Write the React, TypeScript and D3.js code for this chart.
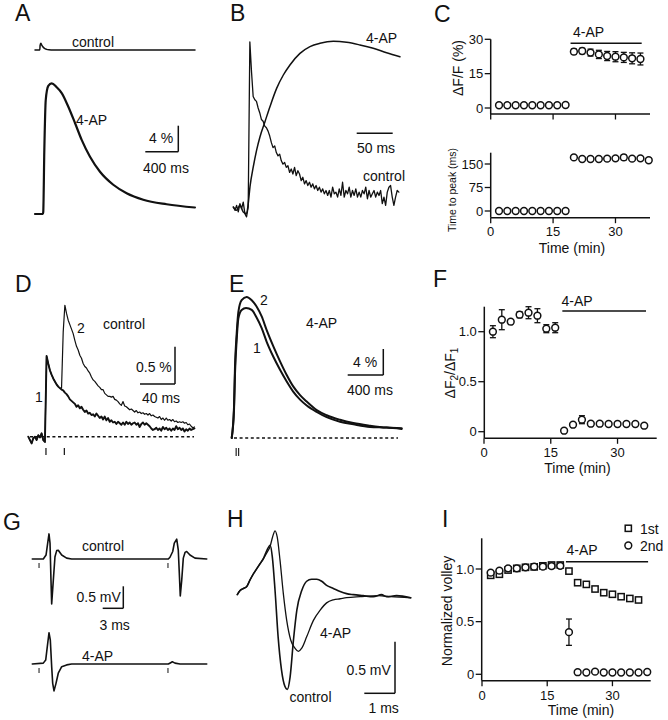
import React from "react";
import * as d3 from "d3";

const FONT = "'Liberation Sans', Arial, Helvetica, sans-serif";
const INK = "#111";
type P = [number, number];

// ---------- Panel A (ms, %) ----------
const A_control: P[] = [[0,0],[58,0],[62,0.7],[70,1.05],[80,0.8],[95,0.5],[115,0.25],[140,0.1],[170,0.03],[220,0],[1940,0]];
const A_4ap: P[] = [[0,0],[95,0],[100,0.3],[113,9.8],[130,17.5],[161,19.7],[202,20.1],[263,19.5],[324,18.6],[404,16.5],[485,14.0],[566,11.4],[667,8.8],[788,6.5],[949,4.5],[1111,3.2],[1313,2.2],[1596,1.5],[1939,1.0]];

// ---------- Panel B (ms, normalised) ----------
const B_dt = 2.3;
const B_control = [0.00,-0.02,0.01,-0.03,0.02,-0.01,0.03,-0.04,-0.06,0.00,
  1.00,0.82,0.67,0.65,0.64,0.60,0.57,0.53,0.52,0.49,
  0.48,0.46,0.43,0.39,0.36,0.37,0.33,0.31,0.32,0.28,
  0.26,0.27,0.24,0.25,0.21,0.23,0.20,0.24,0.19,0.22,
  0.20,0.16,0.18,0.14,0.16,0.13,0.15,0.12,0.14,0.11,
  0.13,0.10,0.12,0.09,0.11,0.08,0.10,0.07,0.10,0.06,
  0.12,0.08,0.09,0.06,0.11,0.07,0.15,0.06,0.10,0.08,
  0.12,0.06,0.10,0.07,0.11,0.06,0.09,0.06,0.10,0.08,
  0.12,0.05,0.10,0.06,0.08,0.10,0.06,0.09,0.07,0.10,
  0.02,0.06,0.01,0.09,0.12,0.13,0.06,0.01,0.06,0.10,0.09];
const B_4ap: P[] = [[0,0],[4.6,-0.02],[9.2,0.01],[13.8,-0.03],[18.4,-0.04],[21,0.03],[23.2,0.123],[27.8,0.244],[32.4,0.345],[37.1,0.426],[44,0.517],[50.9,0.608],[60.2,0.719],[69.5,0.8],[78.7,0.861],[92.6,0.931],[106.5,0.972],[120.4,0.992],[139,1.004],[157.4,0.998],[175.9,0.982],[194.4,0.962],[213,0.935],[231.5,0.911]];

// ---------- Panel C (min) ----------
const C_ctrlT = [2,4,6,8,10,12,14,16,18];
const C_drugT = [20,22,24,26,28,30,32,34,36];
const C_drugT2 = [20,22,24,26,28,30,32,34,36,38];
const C_ampCtrl = [1.2,1.2,1.2,1.2,1.2,1.2,1.2,1.2,1.3];
const C_ampDrug = [24.6,24.9,24.2,23.4,22.7,22.4,22.1,21.7,21.4];
const C_ampDrugErr = [1.2,1.2,1.5,1.8,2.0,2.2,2.2,2.4,2.6];
const C_ttpCtrl = [0,0,0,0,0,0,0,0,0];
const C_ttpDrug = [171,166,166,166,167,168,171,167,168,162];
const C_ttpDrugErr = [3,3,4,5,6,5,8,5,4,6];
const C_yTicksTop = [0,15,30];
const C_yTicksBot = [0,75,150];
const C_xTicks = [0,15,30];
const C_drugBar = [19.2,36.3];

// ---------- Panel D (ms, %) ----------
const D_dt = 1.9;
const D_pulse1 = [0.0,-0.045,-0.09,-0.02,0.0,-0.045,0.02,-0.01,0.045,-0.045,
  -0.07,1.08,0.98,0.89,0.83,0.78,0.74,0.70,0.67,0.65,
  0.63,0.62,0.59,0.57,0.54,0.50,0.48,0.46,0.44,0.40,
  0.42,0.38,0.40,0.36,0.33,0.35,0.31,0.32,0.29,0.30,
  0.27,0.31,0.28,0.25,0.27,0.23,0.27,0.22,0.25,0.20,
  0.22,0.19,0.20,0.17,0.20,0.18,0.16,0.19,0.16,0.20,
  0.17,0.19,0.16,0.18,0.19,0.16,0.18,0.13,0.17,0.19,
  0.16,0.18,0.16,0.14,0.11,0.09,0.10,0.12,0.09,0.11,
  0.08,0.13,0.10,0.12,0.09,0.11,0.08,0.11,0.09,0.14,
  0.10,0.12,0.09,0.11,0.07,0.10,0.08,0.11,0.09,0.10,0.11];
const D_pulse2 = [0.0,-0.045,-0.09,-0.02,0.0,-0.045,0.02,-0.01,0.045,-0.045,
  -0.07,1.08,0.98,0.89,0.83,0.78,0.74,0.70,0.67,0.65,
  0.65,1.40,1.76,1.65,1.56,1.50,1.44,1.38,1.29,1.21,
  1.16,1.09,1.05,0.98,0.94,0.92,0.88,0.85,0.80,0.76,
  0.74,0.71,0.68,0.66,0.63,0.63,0.58,0.56,0.54,0.54,
  0.53,0.54,0.50,0.49,0.47,0.44,0.42,0.47,0.41,0.40,
  0.38,0.36,0.37,0.35,0.33,0.35,0.32,0.33,0.31,0.32,
  0.30,0.31,0.29,0.31,0.28,0.29,0.27,0.26,0.25,0.27,
  0.23,0.25,0.22,0.25,0.22,0.23,0.21,0.23,0.20,0.21,
  0.19,0.20,0.19,0.20,0.18,0.19,0.16,0.17,0.14,0.12,0.13];
const D_stim = [20.2,41.2];

// ---------- Panel E (ms, %) ----------
const E_pulse2: P[] = [[0,0],[26,4.8],[37,11.0],[56,16.1],[75,19.4],[112,21.2],[168,21.7],[225,21.2],[281,20.2],[337,18.7],[393,16.6],[468,14.1],[543,11.8],[618,9.7],[693,7.9],[768,6.6],[843,5.6],[955,4.3],[1067,3.5],[1217,2.8],[1367,2.3],[1554,1.9],[1741,1.6],[1910,1.5]];
const E_pulse1: P[] = [[0,0],[26,4.3],[37,9.9],[56,15.1],[75,18.4],[112,19.7],[161,20.0],[225,19.7],[281,18.5],[337,16.9],[393,14.8],[468,12.5],[543,10.5],[618,8.7],[693,7.1],[768,5.9],[843,5.0],[955,4.0],[1067,3.2],[1217,2.5],[1367,2.1],[1554,1.7],[1741,1.6],[1910,1.4]];
const E_stim = [50,78];

// ---------- Panel F (min, ratio) ----------
const F_ctrlT = [2,4,6,8,10,12,14,16];
const F_ctrl = [1.0,1.12,1.10,1.17,1.19,1.16,1.03,1.04];
const F_ctrlErr = [0.06,0.10,0,0.03,0.06,0.07,0.04,0.05];
const F_drugT = [18,20,22,24,26,28,30,32,34,36];
const F_drug = [0.01,0.07,0.12,0.08,0.08,0.077,0.077,0.077,0.077,0.06];
const F_drugErr = [0,0.02,0.04,0.01,0.01,0.01,0.01,0.01,0.01,0.01];
const F_yTicks = [0,0.5,1.0];
const F_yLabels = ["0","0.5","1.0"];
const F_xTicks = [0,15,30];
const F_drugBar = [17.6,36.4];

// ---------- Panel G (ms, mV) ----------
const G_control: P[] = [[0,0],[1.6,0],[2.0,0.09],[2.24,0.36],[2.43,0.57],[2.58,0.36],[2.72,-0.48],[2.82,-1.02],[3.06,-0.48],[3.30,0.05],[3.55,0.19],[3.78,0.20],[4.28,0.09],[5.0,0.02],[5.73,0],[19.8,0],[20.04,0.04],[20.44,0.17],[20.67,0.36],[21.02,0.45],[21.25,0.20],[21.4,-0.33],[21.54,-0.84],[21.75,-0.48],[21.98,0.02],[22.23,0.15],[22.47,0.17],[22.95,0.09],[23.68,0.02],[25.39,0]];
const G_4ap: P[] = [[0,0],[1.6,0.02],[1.95,0.09],[2.18,0.39],[2.43,0.71],[2.62,0.55],[2.82,-0.06],[2.97,-0.44],[3.16,-0.61],[3.45,-0.44],[3.78,-0.21],[4.28,-0.06],[5.0,-0.02],[5.73,0],[19.8,0],[20.15,0.03],[20.38,0.05],[20.77,0.02],[21.5,0],[25.39,0]];
const G_stim = [0.98,19.75];

// ---------- Panel H (ms, mV) ----------
const H_control: P[] = [[0,0.02],[0.09,0.06],[0.2,0.08],[0.31,0.10],[0.41,0.16],[0.52,0.22],[0.63,0.27],[0.74,0.32],[0.85,0.37],[0.95,0.44],[1.07,0.50],[1.14,0.39],[1.23,0.06],[1.33,-0.39],[1.44,-0.71],[1.55,-0.87],[1.63,-0.90],[1.72,-0.78],[1.83,-0.42],[1.94,-0.13],[2.10,0.06],[2.26,0.15],[2.42,0.17],[2.59,0.17],[2.75,0.15],[2.91,0.11],[3.13,0.08],[3.35,0.05],[3.56,0.03],[3.78,0.02],[4.10,0.01],[4.43,0],[4.70,0.02],[4.86,0],[5.19,0.01],[5.65,-0.01]];
const H_4ap: P[] = [[0,0.02],[0.09,0.06],[0.2,0.08],[0.31,0.10],[0.41,0.16],[0.52,0.22],[0.63,0.27],[0.74,0.32],[0.85,0.37],[0.95,0.42],[1.07,0.49],[1.15,0.58],[1.23,0.64],[1.30,0.58],[1.39,0.36],[1.50,0.03],[1.61,-0.23],[1.74,-0.42],[1.88,-0.50],[1.99,-0.53],[2.10,-0.50],[2.26,-0.39],[2.48,-0.23],[2.70,-0.13],[2.91,-0.06],[3.13,-0.03],[3.35,-0.02],[3.56,-0.01],[4.0,0],[4.6,0.01],[5.0,0],[5.65,-0.01]];

// ---------- Panel I (min, normalised) ----------
const I_firstT = [2,4,6,8,10,12,14,16,18,20,22,24,26,28,30,32,34,36];
const I_first = [0.94,0.95,0.99,1.006,1.016,1.02,1.03,1.038,1.038,0.98,0.87,0.854,0.81,0.775,0.76,0.737,0.72,0.706];
const I_secondT = [2,4,6,8,10,12,14,16,18,20,22,24,26,28,30,32,34,36,38];
const I_second = [0.965,0.984,1.006,1.006,1.016,1.022,1.022,1.028,1.03,0.40,0.02,0.017,0.025,0.017,0.017,0.017,0.017,0.017,0.022];
const I_secondErr = [0,0,0,0,0,0,0,0,0,0.125,0,0,0,0,0,0,0,0,0];
const I_yTicks = [0,0.5,1.0];
const I_yLabels = ["0","0.5","1.0"];
const I_xTicks = [0,15,30];
const I_drugBar = [19.3,38.2];

// ---------- helpers ----------
const sampled = (vals: number[], dt: number): P[] => vals.map((v, i) => [i * dt, v]);
function pathOf(pts: P[], xs: any, ys: any, curve: any = d3.curveLinear) {
  return d3.line<P>().x(d => xs(d[0])).y(d => ys(d[1])).curve(curve)(pts) || "";
}

function T(props: any) {
  const { children, size = 14, ...rest } = props;
  return <text fontSize={size} fill={INK} {...rest}>{children}</text>;
}

function Trace({ d, w = 1.5, dy = 0 }: { d: string; w?: number; dy?: number }) {
  return <path d={d} fill="none" stroke={INK} strokeWidth={w} strokeLinejoin="round" strokeLinecap="round" transform={`translate(0,${dy})`} />;
}

function ScaleBar({ x, y, w, h }: { x: number; y: number; w: number; h: number }) {
  return (
    <g stroke={INK} strokeWidth={1.5} fill="none">
      {h > 0 && <line x1={x} x2={x} y1={y} y2={y - h} />}
      {w > 0 && <line x1={x - w} x2={x} y1={y} y2={y} />}
    </g>
  );
}

function YAxis({ x, top, bottom, ticks, labels, ys }: any) {
  return (
    <g>
      <line x1={x} x2={x} y1={top} y2={bottom} stroke={INK} strokeWidth={1.5} />
      {ticks.map((t: number, i: number) => (
        <g key={i}>
          <line x1={x - 6} x2={x} y1={ys(t)} y2={ys(t)} stroke={INK} strokeWidth={1.3} />
          <T x={x - 7.5} y={ys(t) + 4.6} size={13} textAnchor="end">{labels[i]}</T>
        </g>
      ))}
    </g>
  );
}

function XAxis({ y, left, right, ticks, xs, labels, labelY }: any) {
  return (
    <g>
      <line x1={left} x2={right} y1={y} y2={y} stroke={INK} strokeWidth={1.5} />
      {ticks.map((t: number, i: number) => (
        <g key={i}>
          <line x1={xs(t)} x2={xs(t)} y1={y} y2={y + 5.5} stroke={INK} strokeWidth={1.3} />
          {labels && <T x={xs(t)} y={labelY} size={13} textAnchor="middle">{labels[i]}</T>}
        </g>
      ))}
    </g>
  );
}

function Points({ xs, ys, t, v, e, shape = "circle" }: any) {
  return (
    <g>
      {t.map((tt: number, i: number) => {
        const cx = xs(tt), cy = ys(v[i]);
        const err = e ? e[i] : 0;
        const y1 = ys(v[i] + err), y2 = ys(v[i] - err);
        return (
          <g key={i}>
            {err > 0 && (
              <g stroke={INK} strokeWidth={1.3}>
                <line x1={cx} x2={cx} y1={y1} y2={y2} />
                <line x1={cx - 3} x2={cx + 3} y1={y1} y2={y1} />
                <line x1={cx - 3} x2={cx + 3} y1={y2} y2={y2} />
              </g>
            )}
            {shape === "circle" ? (
              <circle cx={cx} cy={cy} r={3.4} fill="#fff" stroke={INK} strokeWidth={1.5} />
            ) : (
              <rect x={cx - 3.1} y={cy - 3.1} width={6.2} height={6.2} fill="#fff" stroke={INK} strokeWidth={1.5} />
            )}
          </g>
        );
      })}
    </g>
  );
}

export default function App() {
  // Panel A scales
  const Ax = d3.scaleLinear().domain([0, 1940]).range([35, 195]);
  const Ay = d3.scaleLinear().domain([0, 20]).range([214, 84]);
  // Panel B
  const Bx = d3.scaleLinear().domain([0, 232]).range([233.3, 400.3]);
  const By = d3.scaleLinear().domain([0, 1]).range([207, 42]);
  // Panel C
  const Cx = d3.scaleLinear().domain([0, 38.3]).range([490.7, 650]);
  const CyT = d3.scaleLinear().domain([0, 30]).range([108, 39.3]);
  const CyB = d3.scaleLinear().domain([0, 150]).range([211, 164]);
  // Panel D
  const Dx = d3.scaleLinear().domain([0, 190]).range([28.3, 194.5]);
  const Dy = d3.scaleLinear().domain([0, 1]).range([436.7, 362]);
  // Panel E
  const Ex = d3.scaleLinear().domain([0, 1910]).range([231.7, 401.7]);
  const Ey = d3.scaleLinear().domain([0, 20]).range([438, 308]);
  // Panel F
  const Fx = d3.scaleLinear().domain([0, 38.8]).range([484, 656.7]);
  const Fy = d3.scaleLinear().domain([0, 1]).range([431.7, 331.7]);
  // Panel G
  const Gx = d3.scaleLinear().domain([0, 25.4]).range([32.3, 206.8]);
  const Gy = d3.scaleLinear().domain([0, 1]).range([559, 515]);
  // Panel H
  const Hx = d3.scaleLinear().domain([0, 5.65]).range([237.3, 410.7]);
  const Hy = d3.scaleLinear().domain([0, 1]).range([596.7, 493.7]);
  // Panel I
  const Ix = d3.scaleLinear().domain([0, 38.8]).range([482, 650.7]);
  const Iy = d3.scaleLinear().domain([0, 1]).range([674.3, 569]);

  const smooth = d3.curveMonotoneX;
  const bar4 = Ay(0) - Ay(4), bar400 = Ax(400) - Ax(0);

  return (
    <svg width={668} height={720} viewBox="0 0 668 720" style={{ position: "absolute", left: 0, top: 0, background: "#fff" }} fontFamily={FONT}>
      <rect width={668} height={720} fill="#fff" />

      {/* Panel letters */}
      <T x={15} y={21} size={23}>A</T>
      <T x={230} y={21} size={23}>B</T>
      <T x={434} y={22} size={23}>C</T>
      <T x={15} y={292} size={23}>D</T>
      <T x={229} y={292} size={23}>E</T>
      <T x={433} y={287} size={23}>F</T>
      <T x={3} y={530} size={23}>G</T>
      <T x={227} y={527} size={23}>H</T>
      <T x={442} y={527} size={23}>I</T>

      {/* ===== A ===== */}
      <Trace d={pathOf(A_control, Ax, Ay, smooth)} w={1.5} dy={-164} />
      <Trace d={pathOf(A_4ap, Ax, Ay, smooth)} w={2.2} />
      <T x={72} y={46.7}>control</T>
      <T x={76} y={125}>4-AP</T>
      <ScaleBar x={178.3} y={151.7} w={bar400} h={bar4} />
      <T x={149} y={143}>4 %</T>
      <T x={143} y={172.7}>400 ms</T>

      {/* ===== B ===== */}
      <Trace d={pathOf(sampled(B_control, B_dt), Bx, By)} w={1.3} />
      <Trace d={pathOf(B_4ap, Bx, By, smooth)} w={1.5} />
      <T x={366} y={43.3}>4-AP</T>
      <T x={363} y={181}>control</T>
      <ScaleBar x={356.7 + (Bx(50) - Bx(0))} y={133.3} w={Bx(50) - Bx(0)} h={0} />
      <T x={357} y={153}>50 ms</T>

      {/* ===== C ===== */}
      <YAxis x={490.7} top={39.3} bottom={114} ticks={C_yTicksTop} labels={C_yTicksTop.map(String)} ys={CyT} />
      <XAxis y={114} left={490.7} right={650} ticks={C_xTicks} xs={Cx} />
      <line x1={Cx(C_drugBar[0])} x2={Cx(C_drugBar[1])} y1={43.3} y2={43.3} stroke={INK} strokeWidth={1.5} />
      <T x={573} y={37}>4-AP</T>
      <Points xs={Cx} ys={CyT} t={C_ctrlT} v={C_ampCtrl} />
      <Points xs={Cx} ys={CyT} t={C_drugT} v={C_ampDrug} e={C_ampDrugErr} />
      <T x={0} y={0} transform="translate(463,68) rotate(-90)" textAnchor="middle">ΔF/F (%)</T>

      <YAxis x={490.7} top={152.7} bottom={217.7} ticks={C_yTicksBot} labels={C_yTicksBot.map(String)} ys={CyB} />
      <XAxis y={217.7} left={490.7} right={650} ticks={C_xTicks} xs={Cx} labels={C_xTicks.map(String)} labelY={236} />
      <Points xs={Cx} ys={CyB} t={C_ctrlT} v={C_ttpCtrl} />
      <Points xs={Cx} ys={CyB} t={C_drugT2} v={C_ttpDrug} e={C_ttpDrugErr} />
      <T x={0} y={0} size={10.5} transform="translate(456,190) rotate(-90)" textAnchor="middle">Time to peak (ms)</T>
      <T x={572} y={252.5} textAnchor="middle">Time (min)</T>

      {/* ===== D ===== */}
      <line x1={30} x2={194} y1={Dy(0)} y2={Dy(0)} stroke={INK} strokeWidth={1.4} strokeDasharray="3,2.6" />
      <Trace d={pathOf(sampled(D_pulse2, D_dt), Dx, Dy)} w={1.2} />
      <Trace d={pathOf(sampled(D_pulse1, D_dt), Dx, Dy)} w={1.9} />
      {D_stim.map((s, i) => <line key={i} x1={Dx(s)} x2={Dx(s)} y1={448} y2={455} stroke={INK} strokeWidth={1.2} />)}
      <T x={35} y={402}>1</T>
      <T x={77} y={333}>2</T>
      <T x={103} y={329}>control</T>
      <ScaleBar x={175} y={384} w={Dx(40) - Dx(0)} h={Dy(0) - Dy(0.5)} />
      <T x={136} y={372}>0.5 %</T>
      <T x={142} y={403}>40 ms</T>

      {/* ===== E ===== */}
      <line x1={234} x2={398} y1={Ey(0)} y2={Ey(0)} stroke={INK} strokeWidth={1.4} strokeDasharray="3,2.6" />
      <Trace d={pathOf(E_pulse2, Ex, Ey, smooth)} w={2} />
      <Trace d={pathOf(E_pulse1, Ex, Ey, smooth)} w={2} />
      {E_stim.map((s, i) => <line key={i} x1={Ex(s)} x2={Ex(s)} y1={448} y2={456} stroke={INK} strokeWidth={1.1} />)}
      <T x={260} y={305}>2</T>
      <T x={253} y={353}>1</T>
      <T x={306} y={328}>4-AP</T>
      <ScaleBar x={383.3} y={375} w={Ex(400) - Ex(0)} h={Ey(0) - Ey(4)} />
      <T x={353} y={367}>4 %</T>
      <T x={347} y={395}>400 ms</T>

      {/* ===== F ===== */}
      <YAxis x={484.3} top={306.7} bottom={438.3} ticks={F_yTicks} labels={F_yLabels} ys={Fy} />
      <XAxis y={438.3} left={484.3} right={656.7} ticks={F_xTicks} xs={Fx} labels={F_xTicks.map(String)} labelY={457} />
      <line x1={Fx(F_drugBar[0])} x2={Fx(F_drugBar[1])} y1={311} y2={311} stroke={INK} strokeWidth={1.5} />
      <T x={561.5} y={306}>4-AP</T>
      <Points xs={Fx} ys={Fy} t={F_ctrlT} v={F_ctrl} e={F_ctrlErr} />
      <Points xs={Fx} ys={Fy} t={F_drugT} v={F_drug} e={F_drugErr} />
      <text x={0} y={0} fontSize={14} fill={INK} transform="translate(455,373) rotate(-90)" textAnchor="middle">
        ΔF<tspan fontSize={10} dy={3}>2</tspan><tspan dy={-3}>/ΔF</tspan><tspan fontSize={10} dy={3}>1</tspan>
      </text>
      <T x={577.5} y={473} textAnchor="middle">Time (min)</T>

      {/* ===== G ===== */}
      <Trace d={pathOf(G_control, Gx, Gy)} w={1.6} />
      <Trace d={pathOf(G_4ap, Gx, Gy)} w={1.6} dy={105} />
      {G_stim.map((s, i) => (
        <g key={i} stroke={INK} strokeWidth={1}>
          <line x1={Gx(s)} x2={Gx(s)} y1={Gy(0) + 4} y2={Gy(0) + 9} />
          <line x1={Gx(s)} x2={Gx(s)} y1={Gy(0) + 109} y2={Gy(0) + 114} />
        </g>
      ))}
      <T x={82} y={551}>control</T>
      <T x={82} y={661}>4-AP</T>
      <ScaleBar x={123.3} y={608.3} w={Gx(3) - Gx(0)} h={Gy(0) - Gy(0.5)} />
      <T x={76.5} y={602}>0.5 mV</T>
      <T x={99.5} y={630}>3 ms</T>

      {/* ===== H ===== */}
      <Trace d={pathOf(H_control, Hx, Hy, smooth)} w={1.6} />
      <Trace d={pathOf(H_4ap, Hx, Hy, smooth)} w={1.3} />
      <T x={320} y={638}>4-AP</T>
      <T x={289.5} y={702}>control</T>
      <ScaleBar x={395} y={693.3} w={Hx(1) - Hx(0)} h={Hy(0) - Hy(0.5)} />
      <T x={346.5} y={675}>0.5 mV</T>
      <T x={368.5} y={713}>1 ms</T>

      {/* ===== I ===== */}
      <YAxis x={481.7} top={538.3} bottom={680.7} ticks={I_yTicks} labels={I_yLabels} ys={Iy} />
      <XAxis y={680.7} left={481.7} right={650.7} ticks={I_xTicks} xs={Ix} labels={I_xTicks.map(String)} labelY={700} />
      <line x1={Ix(I_drugBar[0])} x2={Ix(I_drugBar[1])} y1={561.7} y2={561.7} stroke={INK} strokeWidth={1.5} />
      <T x={566.5} y={555}>4-AP</T>
      <Points xs={Ix} ys={Iy} t={I_firstT} v={I_first} shape="square" />
      <Points xs={Ix} ys={Iy} t={I_secondT} v={I_second} e={I_secondErr} />
      <rect x={625.2} y={525.2} width={6.2} height={6.2} fill="#fff" stroke={INK} strokeWidth={1.5} />
      <T x={640} y={533.5}>1st</T>
      <circle cx={628.3} cy={545.5} r={3.4} fill="#fff" stroke={INK} strokeWidth={1.5} />
      <T x={640} y={550.5}>2nd</T>
      <T x={0} y={0} transform="translate(452,611) rotate(-90)" textAnchor="middle">Normalized volley</T>
      <T x={581} y={715} textAnchor="middle">Time (min)</T>
    </svg>
  );
}
